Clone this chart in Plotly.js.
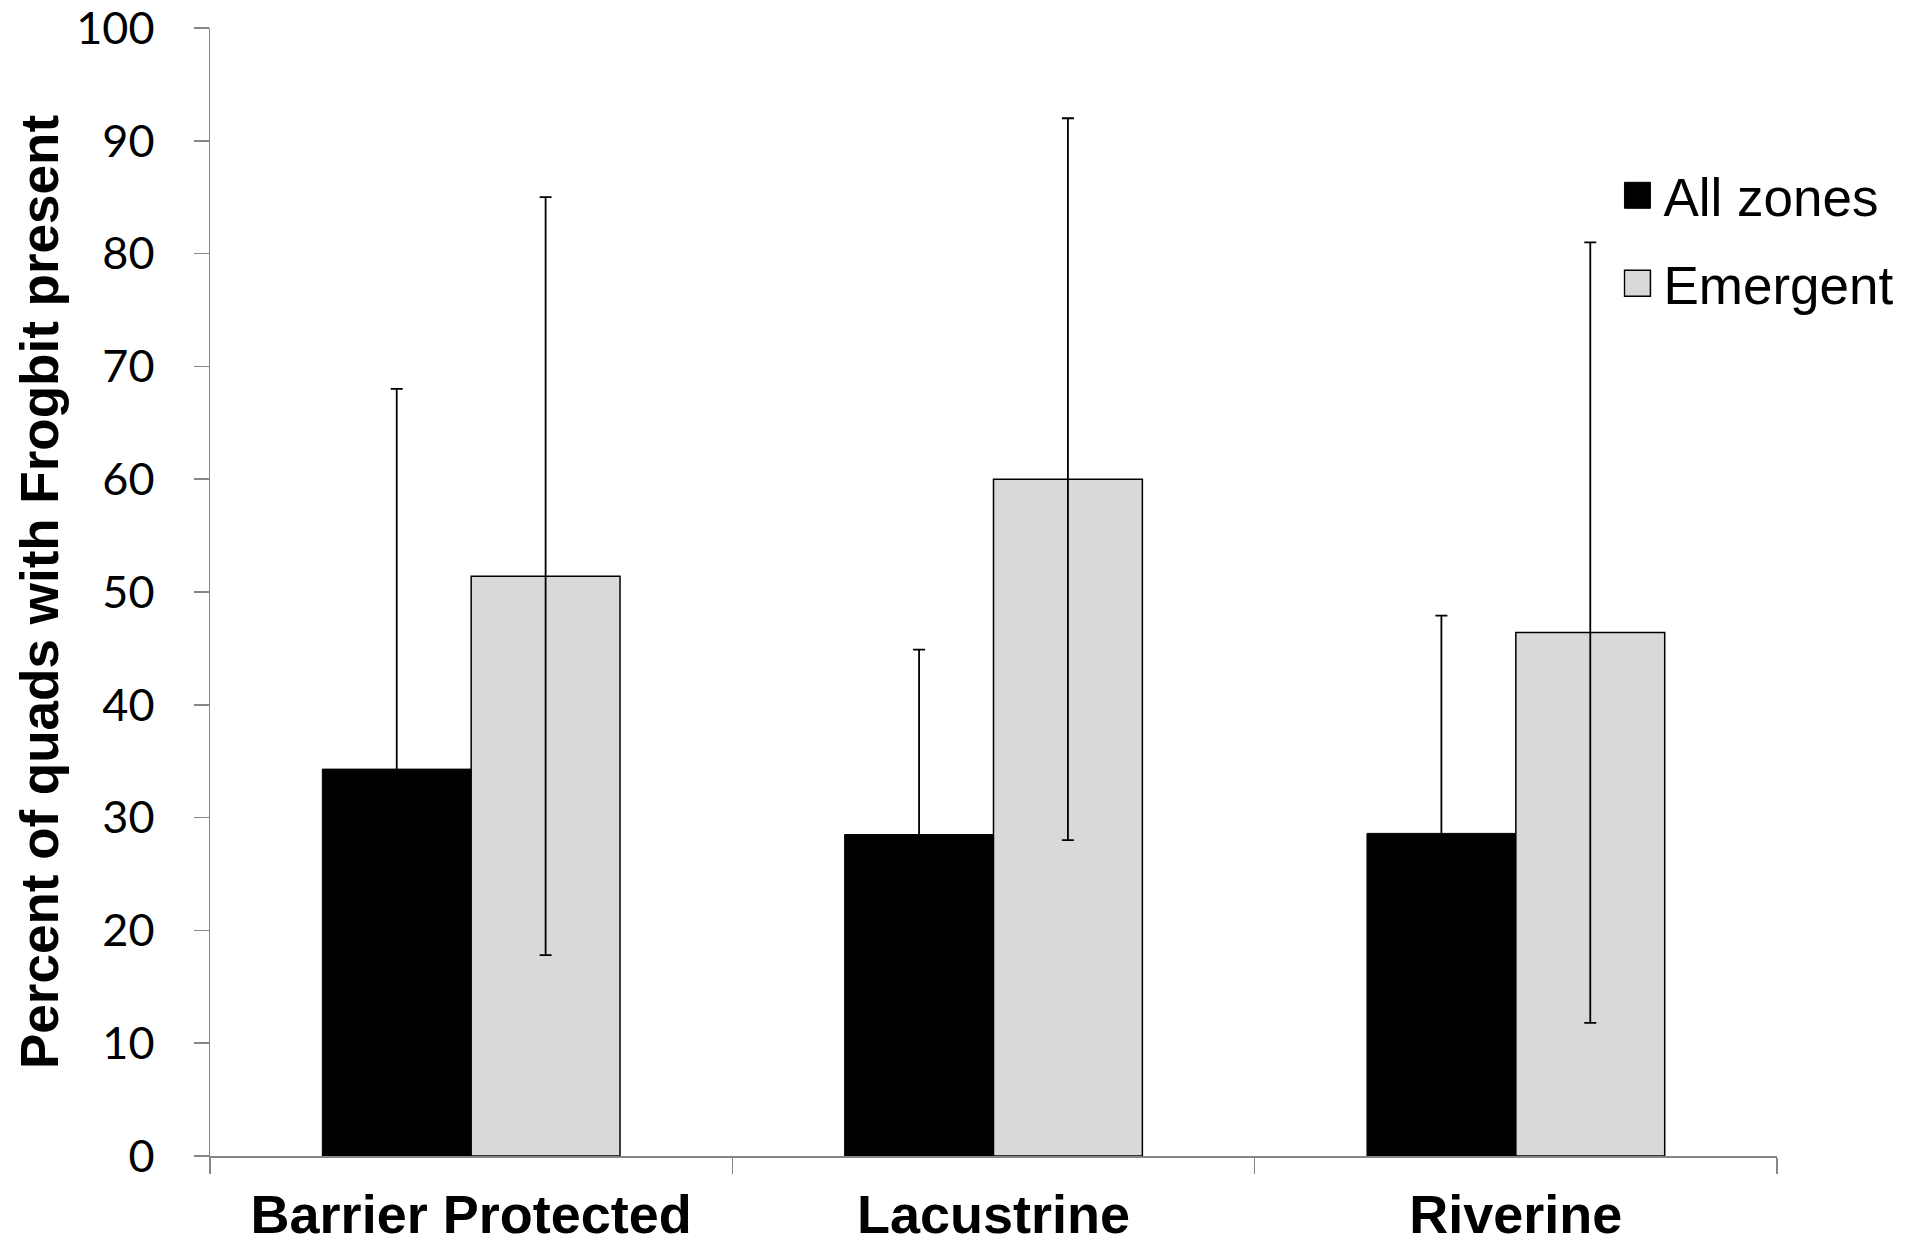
<!DOCTYPE html>
<html>
<head>
<meta charset="utf-8">
<script src="https://cdn.plot.ly/plotly-3.0.1.min.js"></script>
<style>
  html, body { margin: 0; padding: 0; background: #ffffff; }
  #chart { width: 1905px; height: 1247px; }
</style>
</head>
<body>
<div id="chart"></div>
<script>
// ---- data ----
const categories = ["Barrier Protected", "Lacustrine", "Riverine"];
const seriesNames = ["All zones", "Emergent"];
const allZones = [34.3, 28.5, 28.6];
const allZonesErr = [33.7, 16.4, 19.3];
const emergent = [51.4, 60.0, 46.4];
const emergentErr = [33.6, 32.0, 34.6];
const yTickValues = [0, 10, 20, 30, 40, 50, 60, 70, 80, 90, 100];

const axisGrey = "#868686";

const traces = [
  {
    type: "bar",
    name: seriesNames[0],
    legendgroup: "a",
    x: categories,
    y: allZones,
    marker: { color: "#000000", line: { color: "#000000", width: 1 } },
    error_y: { type: "data", array: allZonesErr, visible: true, color: "#000000", thickness: 1.8, width: 6 }
  },
  {
    type: "bar",
    name: seriesNames[1],
    legendgroup: "b",
    x: categories,
    y: emergent,
    marker: { color: "#d9d9d9", line: { color: "#000000", width: 1.5 } },
    error_y: { type: "data", array: emergentErr, visible: true, color: "#000000", thickness: 1.8, width: 6 }
  }
];

const layout = {
  width: 1905,
  height: 1247,
  paper_bgcolor: "#ffffff",
  plot_bgcolor: "#ffffff",
  margin: { l: 210, r: 128, t: 28, b: 91, autoexpand: false },
  barmode: "group",
  bargap: 0.43,
  bargroupgap: 0,
  showlegend: true,
  legend: {
    x: 0.902, y: 0.888, xanchor: "left", yanchor: "top",
    font: { family: "Liberation Sans, Arial, sans-serif", size: 53, color: "#000000" },
    bgcolor: "rgba(0,0,0,0)",
    tracegroupgap: 16,
    traceorder: "grouped"
  },
  xaxis: {
    type: "category",
    tickson: "boundaries",
    ticks: "outside",
    ticklen: 16,
    tickwidth: 1.5,
    tickcolor: axisGrey,
    showline: true,
    linecolor: axisGrey,
    linewidth: 1.5,
    showgrid: false,
    zeroline: false,
    tickfont: { family: "Liberation Sans, Arial, sans-serif", size: 54, color: "#000000", weight: "bold" },
    ticklabelstandoff: 11,
    ticklabeloverflow: "allow"
  },
  yaxis: {
    range: [0, 100],
    tickvals: yTickValues,
    ticks: "outside",
    ticklen: 15,
    tickwidth: 1.5,
    tickcolor: axisGrey,
    showline: true,
    linecolor: axisGrey,
    linewidth: 1.5,
    showgrid: false,
    zeroline: false,
    automargin: true,
    tickfont: { family: "Lato, sans-serif", size: 45, color: "#000000" },
    ticklabelstandoff: 30,
    ticklabeloverflow: "allow",
    title: {
      text: "Percent of quads with Frogbit present",
      font: { family: "Liberation Sans, Arial, sans-serif", size: 53, color: "#000000", weight: "bold" },
      standoff: 0
    }
  }
};

Plotly.newPlot("chart", traces, layout, { displayModeBar: false, staticPlot: true }).then(function () {
  // enlarge the legend swatches to match the reference's square keys
  document.querySelectorAll("#chart .legend .legendpoints path").forEach(function (p) {
    p.setAttribute("d", "M7,13H-19V-13H7Z");
  });
});
</script>
</body>
</html>
